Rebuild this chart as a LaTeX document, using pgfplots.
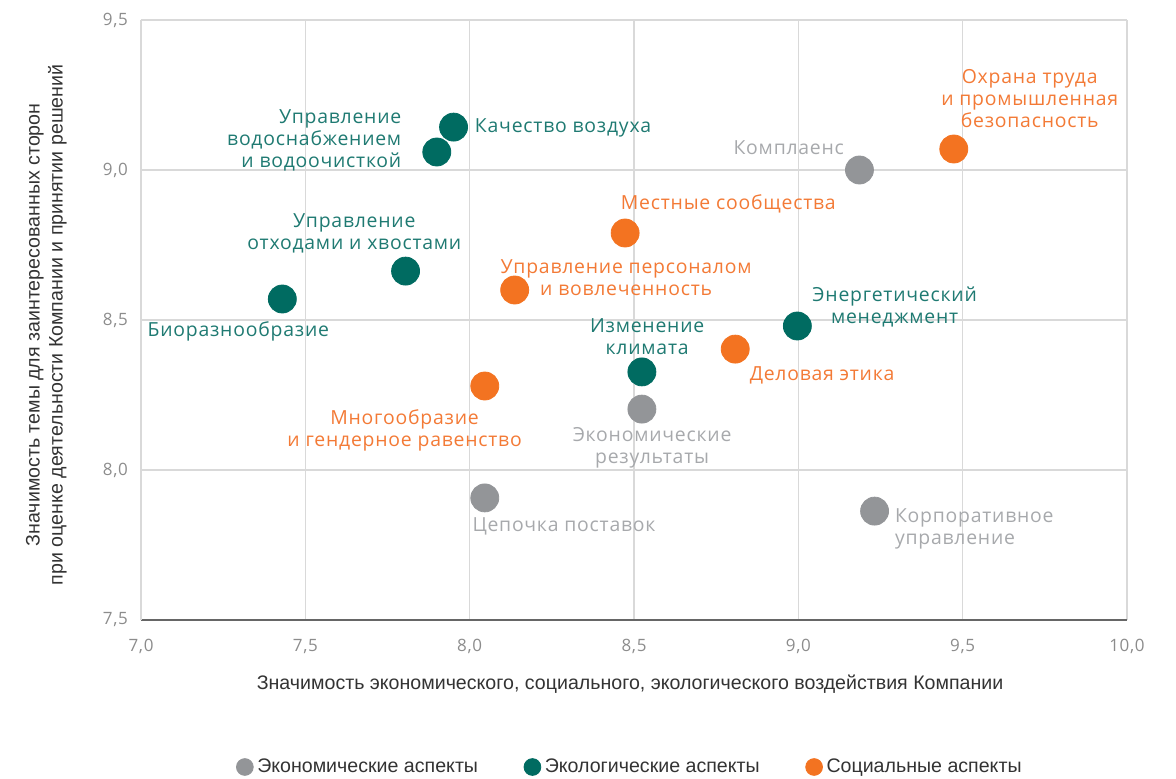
\documentclass[border=0pt]{standalone}
\usepackage{pgfplots}
\pgfplotsset{compat=1.18}
\usepackage{fontspec}
\setmainfont{Open Sans}[LetterSpace=4]
\newfontfamily\arialf{Liberation Sans}
\definecolor{cgray}{HTML}{939598}
\definecolor{cteal}{HTML}{006B61}
\definecolor{corange}{HTML}{F37321}
\definecolor{tgray}{HTML}{A7A9AC}
\definecolor{tteal}{HTML}{1F7A72}
\definecolor{torange}{HTML}{F37A36}
\definecolor{gridc}{HTML}{D9D9D9}
\definecolor{tickc}{HTML}{8C8C8C}
\begin{document}
\begin{tikzpicture}
\path[use as bounding box] (-70.5pt,-79pt) rectangle (517.5pt,310pt);
\begin{axis}[
  at={(0,0)}, anchor=south west,
  width=493pt, height=300pt, scale only axis,
  xmin=7, xmax=10, ymin=7.5, ymax=9.5,
  xtick={7,7.5,...,10}, ytick={7.5,8,...,9.5},
  grid=major, major grid style={gridc, line width=0.6pt},
  axis lines*=left,
  x axis line style={draw=black!60, line width=0.8pt, -},
  y axis line style={draw=gridc, line width=0.6pt, -},
  major tick length=0pt,
  /pgf/number format/.cd, fixed, fixed zerofill, precision=1, use comma, assume math mode=true,
  /pgfplots/.cd,
  ticklabel style={font=\fontsize{8.5}{10}\selectfont, text=tickc},
  xticklabel style={yshift=-6pt},
  yticklabel style={xshift=-3pt},
  xlabel={Значимость экономического, социального, экологического воздействия Компании},
  ylabel={Значимость темы для заинтересованных сторон\\при оценке деятельности Компании и принятии решений},
  every axis x label/.style={at={(axis description cs:0.496,-0.107)}, anchor=center, font=\arialf\fontsize{9.8}{11}\selectfont, text=black!80},
  every axis y label/.style={at={(axis description cs:-0.096,0.492)}, anchor=center, rotate=90, align=center, font=\arialf\fontsize{9.8}{11.5}\selectfont, text=black!80},
  legend columns=3,
  legend style={at={(axis description cs:0.497,-0.245)}, anchor=center, draw=none, fill=none, font=\arialf\fontsize{9.8}{11}\selectfont, text=black!80, /tikz/every even column/.append style={column sep=21pt}},
  legend image code/.code={\draw[#1, mark size=4.2pt] plot coordinates {(0.2cm,0cm)};},
  clip=false,
]
\addplot[only marks, mark=*, mark size=7pt, mark options={draw=cgray, fill=cgray}] coordinates {
 (8.046,7.907) (8.524,8.203) (9.186,9.0) (9.232,7.863)};
\addlegendentry{Экономические аспекты}
\addplot[only marks, mark=*, mark size=7pt, mark options={draw=cteal, fill=cteal}] coordinates {
 (7.43,8.57) (7.805,8.663) (7.90,9.06) (7.951,9.143) (8.524,8.327) (8.997,8.48)};
\addlegendentry{Экологические аспекты}
\addplot[only marks, mark=*, mark size=7pt, mark options={draw=corange, fill=corange}] coordinates {
 (8.046,8.28) (8.137,8.60) (8.473,8.79) (8.808,8.403) (9.473,9.07)};
\addlegendentry{Социальные аспекты}

\begin{scope}[every node/.style={font=\fontsize{9.7}{11}\selectfont, inner sep=0pt}]
\node[text=tteal, anchor=east, align=right] at (axis cs:7.793,9.1) {Управление\\водоснабжением\\и водоочисткой};
\node[text=tteal, anchor=west] at (axis cs:8.015,9.14) {Качество воздуха};
\node[text=tteal, align=center] at (axis cs:7.649,8.79) {Управление\\отходами и хвостами};
\node[text=tteal] at (axis cs:7.296,8.463) {Биоразнообразие};
\node[text=tteal, align=center] at (axis cs:8.540,8.443) {Изменение\\климата};
\node[text=tteal, align=center] at (axis cs:9.293,8.543) {Энергетический\\менеджмент};
\node[text=torange, align=center] at (axis cs:7.802,8.133) {Многообразие\\и гендерное равенство};
\node[text=torange, align=center] at (axis cs:8.476,8.64) {Управление персоналом\\и вовлеченность};
\node[text=torange] at (axis cs:8.787,8.887) {Местные сообщества};
\node[text=torange, anchor=west] at (axis cs:8.851,8.317) {Деловая этика};
\node[text=torange, align=center] at (axis cs:9.704,9.237) {Охрана труда\\и промышленная\\безопасность};
\node[text=tgray] at (axis cs:8.287,7.813) {Цепочка поставок};
\node[text=tgray, align=center] at (axis cs:8.555,8.073) {Экономические\\результаты};
\node[text=tgray, anchor=east] at (axis cs:9.140,9.073) {Комплаенс};
\node[text=tgray, anchor=west, align=left] at (axis cs:9.293,7.803) {Корпоративное\\управление};
\end{scope}
\end{axis}
\end{tikzpicture}
\end{document}
